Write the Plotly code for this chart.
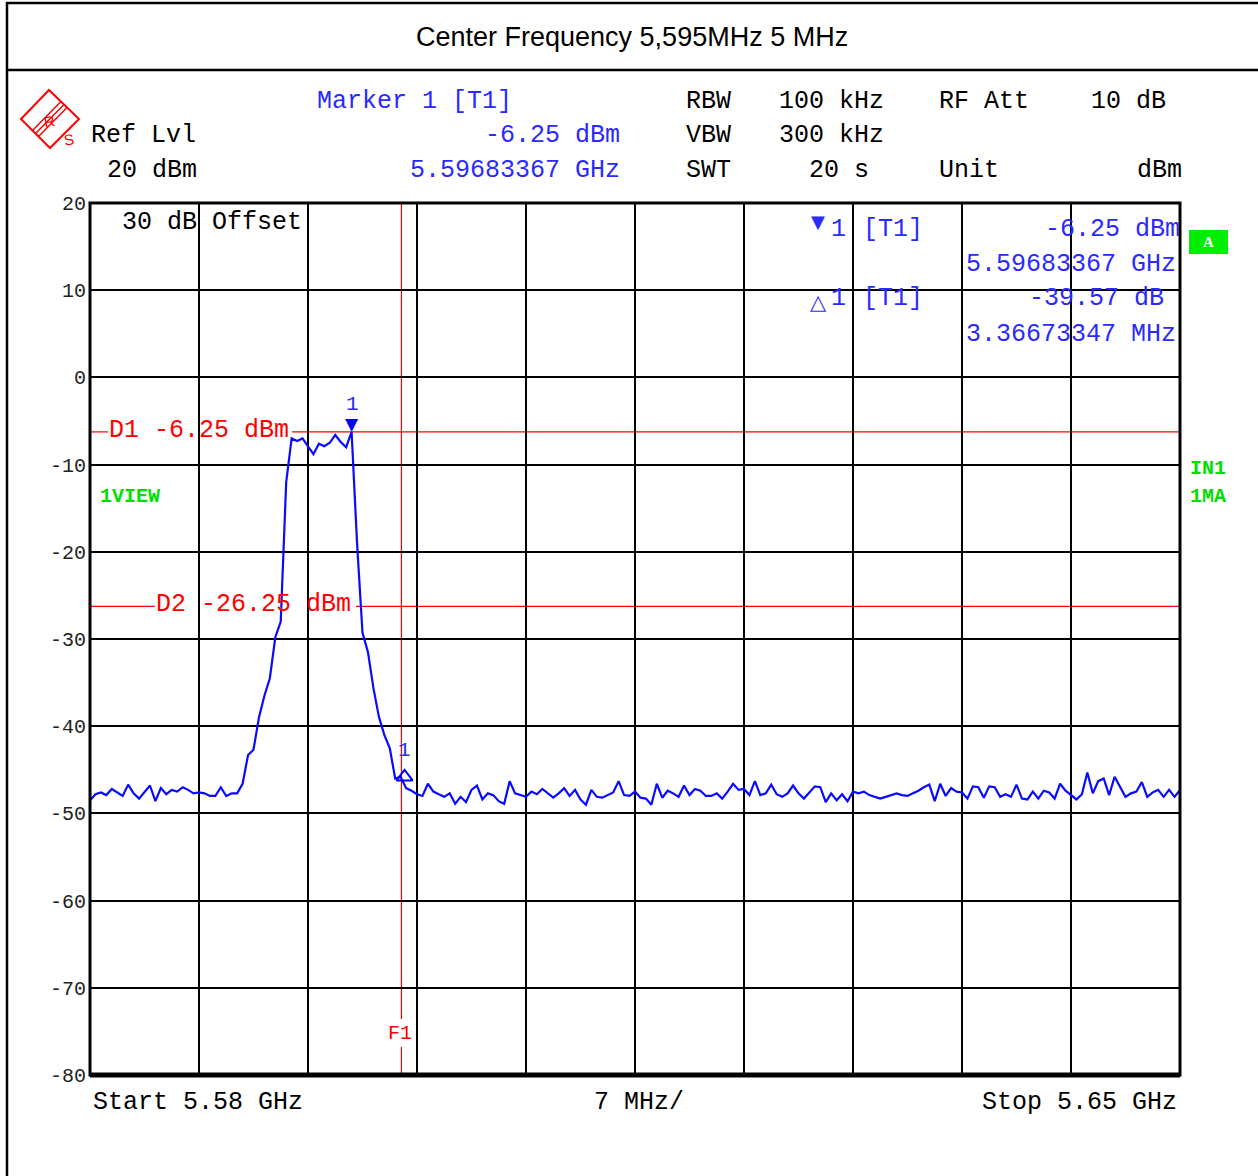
import plotly.graph_objects as go

# ---------------- data ----------------
START_GHZ = 5.58
STOP_GHZ = 5.65
N_POINTS = 201
REF_LVL = 20
Y_BOTTOM = -80

# trace levels (dBm) read from the sweep, one per sweep point
level_dbm = [
    -48.5, -47.8, -47.6, -47.9, -47.2, -47.6, -48.0, -46.7, -47.7, -48.3,   # 0-9
    -47.6, -46.8, -48.6, -47.1, -47.8, -47.3, -47.5, -47.0, -47.3, -47.7,   # 10-19
    -47.6, -47.7, -48.0, -48.0, -47.0, -48.0, -47.7, -47.7, -46.6, -43.3,   # 20-29
    -42.7, -39.0, -36.5, -34.5, -29.8, -28.0, -12.0, -7.0, -7.3, -7.0,      # 30-39
    -7.9, -8.8, -7.6, -7.9, -7.5, -6.6, -7.4, -8.0, -6.25, -19.0,           # 40-49
    -29.3, -31.5, -35.6, -38.9, -41.0, -42.5, -46.0, -45.8, -47.1, -47.4,   # 50-59
    -47.8, -48.0, -46.6, -47.5, -47.8, -48.1, -47.7, -48.9, -48.1, -48.7,   # 60-69
    -47.3, -46.8, -48.4, -47.7, -47.9, -48.6, -48.9, -46.3, -47.7, -47.9,   # 70-79
    -48.1, -47.5, -47.8, -47.2, -47.7, -48.2, -47.7, -47.1, -48.0, -47.3,   # 80-89
    -48.4, -49.0, -47.3, -48.1, -48.2, -47.9, -47.6, -46.3, -47.9, -48.0,   # 90-99
    -47.5, -48.2, -48.3, -49.0, -46.6, -48.2, -47.4, -47.7, -48.1, -46.8,   # 100-109
    -47.9, -47.2, -47.4, -48.0, -48.0, -47.7, -48.3, -47.5, -46.6, -47.3,   # 110-119
    -47.2, -47.9, -46.3, -47.9, -47.7, -46.7, -47.8, -48.1, -47.7, -46.8,   # 120-129
    -47.7, -48.3, -47.6, -46.9, -47.0, -48.7, -47.7, -48.5, -47.8, -48.6,   # 130-139
    -47.5, -47.7, -47.5, -47.9, -48.1, -48.3, -48.1, -47.9, -47.7, -47.9,   # 140-149
    -48.0, -47.7, -47.4, -47.0, -46.7, -48.6, -46.6, -48.0, -47.1, -47.5,   # 150-159
    -47.6, -48.3, -46.9, -47.0, -48.2, -46.9, -47.0, -48.1, -47.8, -48.1,   # 160-169
    -46.7, -48.3, -48.4, -47.5, -48.3, -47.4, -47.6, -48.3, -46.6, -47.4,   # 170-179
    -47.9, -48.4, -47.8, -45.3, -47.7, -46.3, -46.0, -47.9, -45.8, -47.0,   # 180-189
    -48.1, -47.7, -47.5, -46.4, -48.1, -47.6, -47.3, -48.1, -47.3, -48.1,   # 190-199
    -47.3,                                                                  # 200
]
assert len(level_dbm) == N_POINTS
step = (STOP_GHZ - START_GHZ) / (N_POINTS - 1)
freq_ghz = [START_GHZ + i * step for i in range(N_POINTS)]

marker1_freq_ghz = 5.59683367
marker1_level_dbm = -6.25
delta1_offset_mhz = 3.36673347
delta1_rel_db = -39.57
d1_level_dbm = -6.25
d2_level_dbm = -26.25
f1_freq_ghz = 5.6000

y_ticks = [20, 10, 0, -10, -20, -30, -40, -50, -60, -70, -80]
x_grid_step_ghz = 0.007

# ---------------- layout helpers ----------------
W, H = 1258, 1176
PL, PR, PT, PB = 90, 1180, 203, 1075


def X(px):
    return px / W


def Y(py):
    return 1 - py / H


MONO = "Liberation Mono, Courier New, monospace"
BLUE = "#2a2aff"
RED = "#ff0000"
GREEN = "#00e000"
FS = 25

fig = go.Figure()

fig.add_trace(go.Scatter(
    x=freq_ghz, y=level_dbm, mode="lines",
    line=dict(color="#0a0aff", width=2.2), hoverinfo="skip", showlegend=False))

# delta marker (open triangle)
delta_f = marker1_freq_ghz + delta1_offset_mhz / 1000
delta_l = marker1_level_dbm + delta1_rel_db
fig.add_trace(go.Scatter(
    x=[delta_f], y=[delta_l], mode="markers",
    marker=dict(symbol="triangle-up-open", size=14, color="#0000ff",
                line=dict(width=2, color="#0000ff")),
    hoverinfo="skip", showlegend=False))

annotations = []


def txt(text, px, py, color="black", size=FS, anchor="left", family=MONO,
        bold=False, bg=None):
    t = f"<b>{text}</b>" if bold else text
    a = dict(text=t, x=X(px), y=Y(py), xref="paper", yref="paper",
             xanchor=anchor, yanchor="middle", showarrow=False,
             font=dict(family=family, size=size, color=color))
    if bg:
        a["bgcolor"] = bg
    annotations.append(a)


# title
txt("Center Frequency 5,595MHz 5 MHz", 632, 37, size=27,
    anchor="center", family="Liberation Sans, Arial, sans-serif")

# header info
txt("Marker 1 [T1]", 315, 101, BLUE)
txt("Ref Lvl", 89, 135)
txt(f"{marker1_level_dbm:.2f} dBm", 622, 135, BLUE, anchor="right")
txt(f"{REF_LVL} dBm", 105, 170)
txt(f"{marker1_freq_ghz:.8f} GHz", 622, 170, BLUE, anchor="right")
txt("RBW", 684, 101)
txt("100 kHz", 777, 101)
txt("RF Att", 937, 101)
txt("10 dB", 1168, 101, anchor="right")
txt("VBW", 684, 135)
txt("300 kHz", 777, 135)
txt("SWT", 684, 170)
txt("20 s", 807, 170)
txt("Unit", 937, 170)
txt("dBm", 1184, 170, anchor="right")

# inside plot
txt("30 dB Offset", 120, 223)
txt("▼", 818, 222, BLUE, size=18, anchor="center", family="DejaVu Sans")
txt("1", 829, 229, BLUE)
txt("[T1]", 861, 229, BLUE)
txt(f"{marker1_level_dbm:.2f} dBm", 1182, 229, BLUE, anchor="right")
txt(f"{marker1_freq_ghz:.8f} GHz", 1178, 264, BLUE, anchor="right")
txt("△", 818, 302, BLUE, size=21, anchor="center", family="DejaVu Sans")
txt("1", 829, 299, BLUE)
txt("[T1]", 861, 299, BLUE)
txt(f"{delta1_rel_db:.2f} dB", 1166, 299, BLUE, anchor="right")
txt(f"{delta1_offset_mhz:.8f} MHz", 1178, 334, BLUE, anchor="right")

txt("1VIEW", 98, 496, GREEN, size=20, bold=True)
txt("IN1", 1188, 468, GREEN, size=20, bold=True)
txt("1MA", 1188, 496, GREEN, size=20, bold=True)
txt("<b>A</b>", 1208, 242, "white", size=15, anchor="center",
    family="Liberation Serif, serif")

txt(f"D1 {d1_level_dbm:.2f} dBm", 107, 430, RED)
txt(f"D2 {d2_level_dbm:.2f} dBm", 154, 604, RED)
txt("F1", 400, 1033, RED, size=20, anchor="center")

# marker labels (attached to data points)
annotations.append(dict(text="▼", x=marker1_freq_ghz, y=marker1_level_dbm,
                        xref="x", yref="y", showarrow=False, yanchor="bottom",
                        yshift=-4, font=dict(family="DejaVu Sans", size=17,
                                             color="#0000ff")))
annotations.append(dict(text="1", x=marker1_freq_ghz, y=marker1_level_dbm,
                        xref="x", yref="y", showarrow=False, yanchor="middle",
                        yshift=27, font=dict(family=MONO, size=21, color=BLUE)))
annotations.append(dict(text="1", x=delta_f, y=delta_l,
                        xref="x", yref="y", showarrow=False, yanchor="middle",
                        yshift=26, font=dict(family=MONO, size=21, color=BLUE)))

# bottom
txt("Start 5.58 GHz", 91, 1102)
txt("7 MHz/", 592, 1102)
txt("Stop 5.65 GHz", 1179, 1102, anchor="right")

shapes = []
# outer frame + title separator
shapes.append(dict(type="rect", xref="paper", yref="paper",
                   x0=X(7), x1=X(1275), y0=Y(1190), y1=Y(3),
                   line=dict(color="black", width=2.5)))
shapes.append(dict(type="line", xref="paper", yref="paper",
                   x0=X(7), x1=X(1260), y0=Y(70), y1=Y(70),
                   line=dict(color="black", width=2.5)))
# green box
shapes.append(dict(type="rect", xref="paper", yref="paper",
                   x0=X(1189), x1=X(1228), y0=Y(254), y1=Y(230),
                   fillcolor="#00ee00", line=dict(width=0), layer="below"))

# R&S logo
dpath = (f"M {X(49)},{Y(90)} L {X(79)},{Y(119)} L {X(50)},{Y(148)} "
         f"L {X(21)},{Y(119)} Z")
shapes.append(dict(type="path", xref="paper", yref="paper", path=dpath,
                   line=dict(color=RED, width=2)))
for off in (-3, 0, 3):
    shapes.append(dict(type="line", xref="paper", yref="paper",
                       x0=X(35.5 + off), y0=Y(133.5 + off),
                       x1=X(64 + off), y1=Y(104.5 + off),
                       line=dict(color=RED, width=1.5)))
annotations.append(dict(text="R", x=X(40), y=Y(110), xref="paper", yref="paper",
                        showarrow=False, textangle=-10,
                        font=dict(family="Liberation Sans", size=15, color=RED)))
annotations.append(dict(text="S", x=X(60), y=Y(128), xref="paper", yref="paper",
                        showarrow=False, textangle=-10,
                        font=dict(family="Liberation Sans", size=15, color=RED)))

# display lines D1 / D2 (broken around labels)
for lvl, g0, g1 in ((d1_level_dbm, 108, 292), (d2_level_dbm, 155, 356)):
    for a, b in ((PL, g0), (g1, PR)):
        shapes.append(dict(type="line", xref="x domain", yref="y",
                           x0=(a - PL) / (PR - PL), x1=(b - PL) / (PR - PL),
                           y0=lvl, y1=lvl, layer="below",
                           line=dict(color=RED, width=1.2)))
# F1 line (broken around label)
for a, b in ((0, (PB - 1047) / (PB - PT)), ((PB - 1019) / (PB - PT), 1)):
    shapes.append(dict(type="line", xref="x", yref="y domain",
                       x0=f1_freq_ghz, x1=f1_freq_ghz, y0=a, y1=b,
                       layer="below", line=dict(color=RED, width=1.2)))

# plot frame
shapes.append(dict(type="rect", xref="x domain", yref="y domain",
                   x0=0, x1=1, y0=0, y1=1, line=dict(color="black", width=3)))
shapes.append(dict(type="line", xref="x domain", yref="y domain",
                   x0=0, x1=1, y0=0, y1=0, line=dict(color="black", width=5)))

fig.update_layout(
    width=W, height=H,
    margin=dict(l=0, r=0, t=0, b=0, pad=0, autoexpand=False),
    paper_bgcolor="white", plot_bgcolor="rgba(0,0,0,0)",
    showlegend=False,
    annotations=annotations,
    shapes=shapes,
    xaxis=dict(domain=[X(PL), X(PR)], range=[START_GHZ, STOP_GHZ],
               tick0=START_GHZ, dtick=x_grid_step_ghz, showticklabels=False,
               showgrid=True, gridcolor="black", gridwidth=1.8,
               zeroline=False, showline=False, ticks="", automargin=False),
    yaxis=dict(domain=[Y(PB), Y(PT)], range=[Y_BOTTOM, REF_LVL],
               tickvals=y_ticks, ticktext=[str(v) for v in y_ticks],
               showgrid=True, gridcolor="black", gridwidth=1.8,
               zeroline=False, showline=False, ticks="", automargin=False,
               ticklabelstandoff=3,
               tickfont=dict(family=MONO, size=20, color="#222")),
)

fig.write_html("out.html", config={"displayModeBar": False},
               post_script="document.body.style.margin='0';"
                           "document.body.style.overflow='hidden';")
